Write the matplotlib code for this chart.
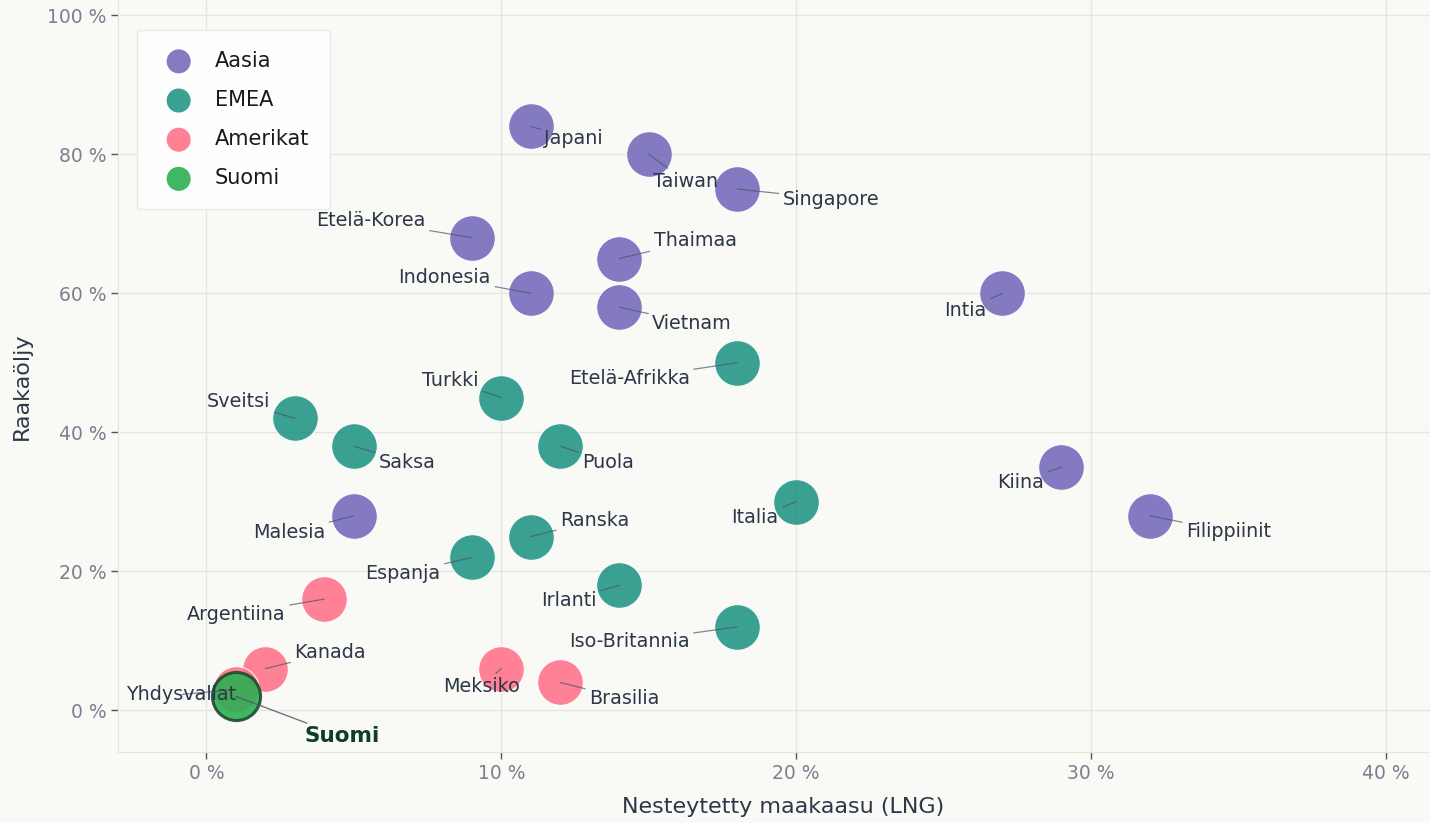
import matplotlib
matplotlib.use("Agg")
import matplotlib.pyplot as plt
from matplotlib.ticker import FuncFormatter

# data: LNG share (x) and crude oil share (y), percent
asia_names = ["Japani", "Taiwan", "Singapore", "Etelä-Korea", "Thaimaa", "Indonesia",
              "Vietnam", "Intia", "Kiina", "Filippiinit", "Malesia"]
asia_lng = [11, 15, 18, 9, 14, 11, 14, 27, 29, 32, 5]
asia_oil = [84, 80, 75, 68, 65, 60, 58, 60, 35, 28, 28]

emea_names = ["Etelä-Afrikka", "Turkki", "Sveitsi", "Saksa", "Puola", "Italia",
              "Ranska", "Espanja", "Irlanti", "Iso-Britannia"]
emea_lng = [18, 10, 3, 5, 12, 20, 11, 9, 14, 18]
emea_oil = [50, 45, 42, 38, 38, 30, 25, 22, 18, 12]

amer_names = ["Argentiina", "Kanada", "Yhdysvallat", "Meksiko", "Brasilia"]
amer_lng = [4, 2, 1, 10, 12]
amer_oil = [16, 6, 3, 6, 4]

fin_name = "Suomi"
fin_lng = 1
fin_oil = 2

# label offsets in pixels (dx right, dy down) - hand placed like the original
offsets = {
    "Japani": (43, 12), "Taiwan": (37, 27), "Singapore": (94, 10),
    "Etelä-Korea": (-101, -17), "Thaimaa": (76, -18), "Indonesia": (-86, -16),
    "Vietnam": (73, 16), "Intia": (-37, 17), "Kiina": (-41, 15),
    "Filippiinit": (79, 16), "Malesia": (-65, 17),
    "Etelä-Afrikka": (-108, 16), "Turkki": (-51, -17), "Sveitsi": (-56, -17),
    "Saksa": (53, 16), "Puola": (48, 16), "Italia": (-41, 16), "Ranska": (64, -16),
    "Espanja": (-69, 16), "Irlanti": (-50, 15), "Iso-Britannia": (-108, 15),
    "Argentiina": (-88, 15), "Kanada": (65, -16), "Yhdysvallat": (-55, 5),
    "Meksiko": (-20, 18), "Brasilia": (64, 16),
}

BG = "#f9f9f6"
GRID = "#e6e6e1"
TEXT = "#2d3748"
TICK = "#7a8090"

fig = plt.figure(figsize=(14.3, 8.23), dpi=100, facecolor=BG)
ax = fig.add_axes([118 / 1430, 71 / 823, 1 - 118 / 1430, 1 - 71 / 823])
ax.set_facecolor(BG)

groups = [
    ("Aasia", asia_names, asia_lng, asia_oil, "#7469bb"),
    ("EMEA", emea_names, emea_lng, emea_oil, "#1f9484"),
    ("Amerikat", amer_names, amer_lng, amer_oil, "#ff7088"),
]
for label, names, xs, ys, col in groups:
    ax.scatter(xs, ys, s=1080, c=col, alpha=0.88, edgecolors="white",
               linewidths=0.8, label=label, zorder=3)

ax.scatter([fin_lng], [fin_oil], s=1200, c="#2cae52", alpha=0.9,
           edgecolors="#1f4a33", linewidths=2.2, label="Suomi", zorder=4)

px2pt = 72 / 100
for label, names, xs, ys, col in groups:
    for n, x, y in zip(names, xs, ys):
        dx, dy = offsets[n]
        ax.annotate(n, (x, y), xytext=(dx * px2pt, -dy * px2pt),
                    textcoords="offset points", ha="center", va="center",
                    fontsize=13.8, color=TEXT, zorder=5,
                    arrowprops=dict(arrowstyle="-", color="#4a5568", lw=0.9,
                                    alpha=0.7, shrinkA=1, shrinkB=0))

ax.annotate(fin_name, (fin_lng, fin_oil), xytext=(106 * px2pt, -40 * px2pt),
            textcoords="offset points", ha="center", va="center",
            fontsize=15.5, fontweight="bold", color="#0f3d2a", zorder=5,
            arrowprops=dict(arrowstyle="-", color="#4a5568", lw=1.0,
                            alpha=0.8, shrinkA=1, shrinkB=0))

ax.set_xlim(-3.0, 41.5)
ax.set_ylim(-6.0, 102.2)
ax.set_xticks([0, 10, 20, 30, 40])
ax.set_yticks([0, 20, 40, 60, 80, 100])
pct = FuncFormatter(lambda v, p: f"{v:.0f} %")
ax.xaxis.set_major_formatter(pct)
ax.yaxis.set_major_formatter(pct)
ax.tick_params(colors="#50565f", labelcolor=TICK, labelsize=13.5, length=5, width=1)
ax.grid(True, color=GRID, lw=1, zorder=0)
ax.set_axisbelow(True)
for s in ["top", "right"]:
    ax.spines[s].set_visible(False)
for s in ["left", "bottom"]:
    ax.spines[s].set_color(GRID)

ax.set_xlabel("Nesteytetty maakaasu (LNG)", fontsize=16, color=TEXT)
ax.set_ylabel("Raakaöljy", fontsize=16, color=TEXT)
ax.xaxis.set_label_coords((783 - 118) / 1312, -45 / 752)
ax.yaxis.set_label_coords(-86 / 1312, 1 - 386 / 752)

leg = ax.legend(loc="upper left", bbox_to_anchor=(19 / 1312, 1 - 30 / 752),
                borderaxespad=0, fontsize=15, markerscale=0.6,
                labelspacing=0.92, borderpad=1.0, handletextpad=0.75,
                frameon=True, fancybox=True)
leg.get_frame().set_facecolor("white")
leg.get_frame().set_edgecolor("#e8e8e8")
leg.get_frame().set_alpha(0.9)
for t in leg.get_texts():
    t.set_color("#1a1a1a")
for h in leg.legend_handles:
    h.set_sizes([300])
    h.set_edgecolor("none")

fig.savefig("out.png", dpi=100, facecolor=BG)
